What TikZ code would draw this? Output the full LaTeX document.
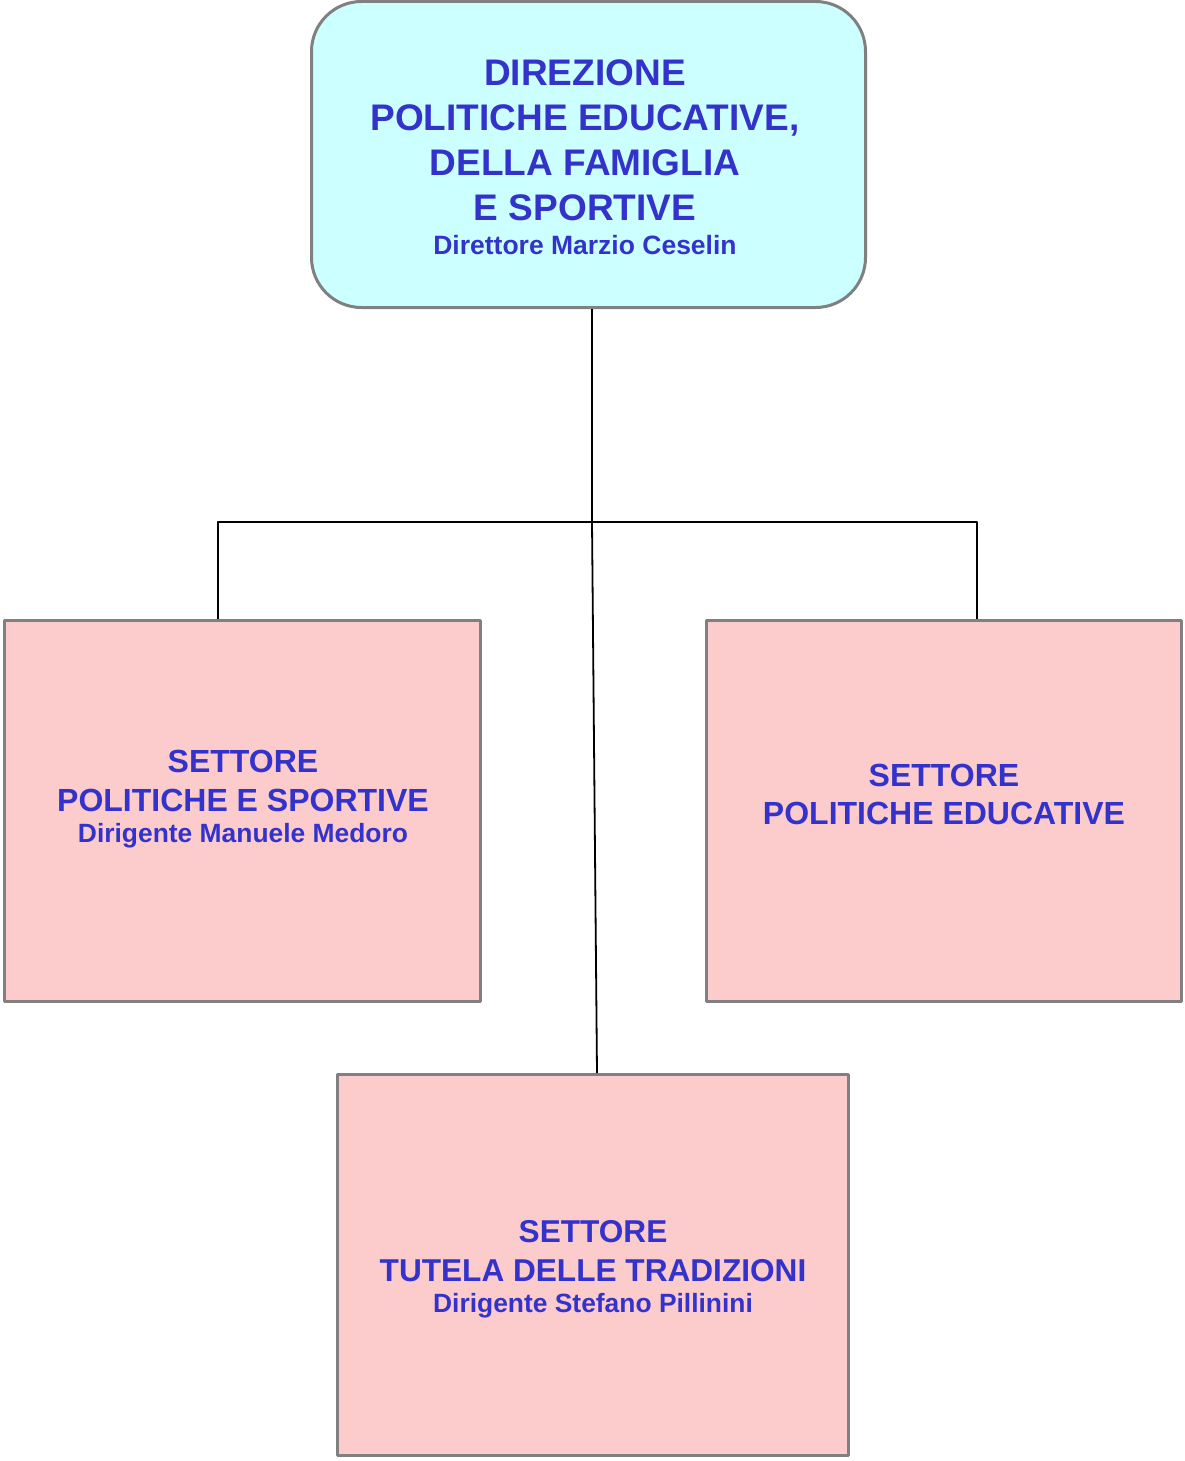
\documentclass[tikz,border=0pt]{standalone}
\usepackage{fontspec}
\setmainfont{Liberation Sans}
\begin{document}
\begin{tikzpicture}[x=1pt,y=-1pt,line join=round]
        \definecolor{celeste}{RGB}{204,255,255}
        \definecolor{rosa}{RGB}{252,203,203}
        \definecolor{blu}{RGB}{51,51,204}
        \definecolor{bordo}{RGB}{128,128,128}
        \tikzset{
                scatola/.style={draw=bordo,line width=3pt,inner sep=0pt},
                testo/.style={text=blu,align=center,inner sep=0pt,font=\bfseries},
                filo/.style={draw=black,line width=1.8pt}
        }
        \useasboundingbox (0,0) rectangle (1184,1461);
        % caselle
        \node[scatola,fill=celeste,rounded corners=50pt,minimum width=554pt,minimum height=306pt] (direzione) at (588.5,154.5) {};
        \node[scatola,fill=rosa,minimum width=476pt,minimum height=381pt] (sport) at (242.5,811) {};
        \node[scatola,fill=rosa,minimum width=475pt,minimum height=381pt] (educ) at (944,811) {};
        \node[scatola,fill=rosa,minimum width=511pt,minimum height=381pt] (tradiz) at (593,1265) {};
        % testi
        \node[testo,font=\bfseries\fontsize{37}{45}\selectfont] (direzioneTxt) at (585,157)
        {DIREZIONE\\POLITICHE EDUCATIVE,\\DELLA FAMIGLIA\\E SPORTIVE\\[-11pt]{\fontsize{26.5}{34}\selectfont Direttore Marzio Ceselin}};
        \node[testo,font=\bfseries\fontsize{32}{39}\selectfont] (sportTxt) at (243,799)
        {SETTORE\\POLITICHE E SPORTIVE\\[-8pt]{\fontsize{26.4}{31}\selectfont Dirigente Manuele Medoro}};
        \node[testo,font=\bfseries\fontsize{32}{38}\selectfont] (educTxt) at (944,794)
        {SETTORE\\POLITICHE EDUCATIVE};
        \node[testo,font=\bfseries\fontsize{31.6}{39}\selectfont] (tradizTxt) at (593,1269)
        {SETTORE\\TUTELA DELLE TRADIZIONI\\[-8pt]{\fontsize{26.4}{31}\selectfont Dirigente Stefano Pillinini}};
        % collegamenti
        \path
        (592,522) coordinate (nodo)
        (218,522) coordinate (sx)
        (977,522) coordinate (dx)
        ;
        \draw[filo] (direzione.south -| nodo) -- (nodo);
        \draw[filo] (sport.north -| sx) -- (sx) -- (dx) -- (educ.north -| dx);
        \draw[filo] (nodo) -- ([xshift=4pt]tradiz.north);
\end{tikzpicture}
\end{document}
